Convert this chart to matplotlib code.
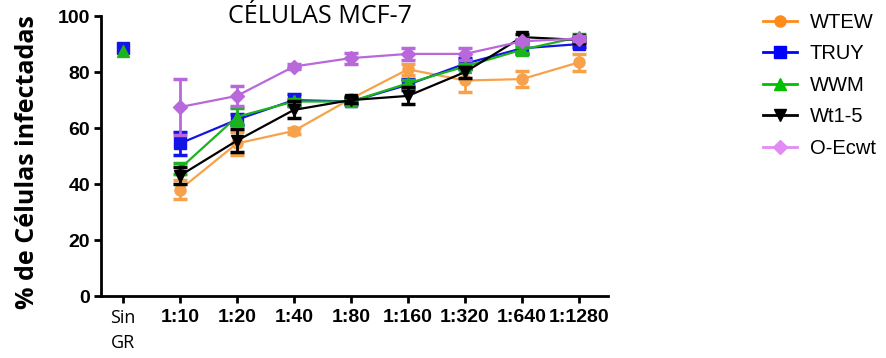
import numpy as np
import matplotlib.pyplot as plt

# categories on the x axis
labels = ['Sin\nGR', '1:10', '1:20', '1:40', '1:80', '1:160', '1:320', '1:640', '1:1280']

series = ['WTEW', 'TRUY', 'WWM', 'Wt1-5', 'O-Ecwt']
colors = ['#F7A24B', '#1414E6', '#1DB31D', '#000000', '#B868DA']
legend_colors = ['#FF8C1A', '#0000FF', '#00C000', '#000000', '#E08CF2']
markers = ['o', 's', '^', 'v', 'D']

# value at "Sin GR" (nan = not shown)
sin_gr = [np.nan, 88.5, 87.5, np.nan, np.nan]

# mean % infected cells for 1:10 ... 1:1280
wtew  = [38, 54.5, 59, 70.5, 81, 77, 77.5, 83.5]
truy  = [54.5, 63, 70, 69.5, 75.5, 83, 88.5, 90]
wwm   = [45.5, 64, 69.5, 69.5, 76, 82, 88, 92.5]
wt15  = [43, 55.5, 66.5, 70, 71.5, 80, 92.5, 91.5]
oecwt = [67.5, 71.5, 82, 85, 86.5, 86.5, 91, 92]

# error bar half widths
wtew_err  = [3.5, 4, 1, 1, 2, 4, 3, 3]
truy_err  = [4, 2, 2, 1, 2, 2, 2, 1]
wwm_err   = [2, 3, 1, 1, 1, 1, 1, 1]
wt15_err  = [3, 4, 3, 1, 3, 2, 1, 1]
oecwt_err = [10, 3.5, 1, 2, 2, 2, 1, 1]

means = [wtew, truy, wwm, wt15, oecwt]
errs = [wtew_err, truy_err, wwm_err, wt15_err, oecwt_err]

fig = plt.figure(figsize=(8.87, 3.58), dpi=100)
ax = fig.add_axes([0.114, 0.173, 0.571, 0.782])

xpos = np.arange(len(labels))
for i in range(len(series)):
    ax.errorbar(xpos[1:], means[i], yerr=errs[i], color=colors[i], marker=markers[i],
                markersize=8 if markers[i] != 'D' else 7, lw=1.6, elinewidth=2,
                capsize=5, capthick=2.5, zorder=3 + i)
    if not np.isnan(sin_gr[i]):
        ax.plot(xpos[0], sin_gr[i], marker=markers[i], color=colors[i],
                markersize=8, ls='none', zorder=3 + i)

ax.set_xlim(-0.38, 8.5)
ax.set_ylim(0, 100)
ax.set_yticks([0, 20, 40, 60, 80, 100])
ax.set_xticks(xpos)
ax.set_xticklabels(labels)
for lab in ax.get_yticklabels():
    lab.set_fontfamily('Liberation Sans')
    lab.set_fontweight('bold')
    lab.set_fontsize(14)
for j, lab in enumerate(ax.get_xticklabels()):
    if j == 0:
        lab.set_fontfamily('Open Sans')
        lab.set_fontsize(13)
        lab.set_linespacing(1.5)
    else:
        lab.set_fontfamily('Liberation Sans')
        lab.set_fontweight('bold')
        lab.set_fontsize(14)

for s in ['top', 'right']:
    ax.spines[s].set_visible(False)
for s in ['left', 'bottom']:
    ax.spines[s].set_linewidth(2)
ax.tick_params(axis='both', direction='out', length=5, width=2, pad=3)
ax.tick_params(axis='x', pad=4)

ax.set_ylabel('% de Células infectadas', fontfamily='Open Sans', fontweight='bold',
              fontsize=18)
ax.yaxis.set_label_coords(-0.12, 0.48)
fig.text(0.361, 0.918, 'CÉLULAS MCF-7', fontfamily='Open Sans', fontsize=18,
         ha='center', va='bottom')

# legend outside on the right
handles = [plt.Line2D([], [], color=legend_colors[i], marker=markers[i], lw=2,
                      markersize=8 if markers[i] != 'D' else 7) for i in range(len(series))]
fig.legend(handles, series, loc='upper left', bbox_to_anchor=(0.84, 1.015),
           frameon=False, prop={'family': 'Liberation Sans', 'size': 14.5},
           handlelength=1.7, handletextpad=0.6, labelspacing=0.62)

fig.savefig('out.png', dpi=100)
